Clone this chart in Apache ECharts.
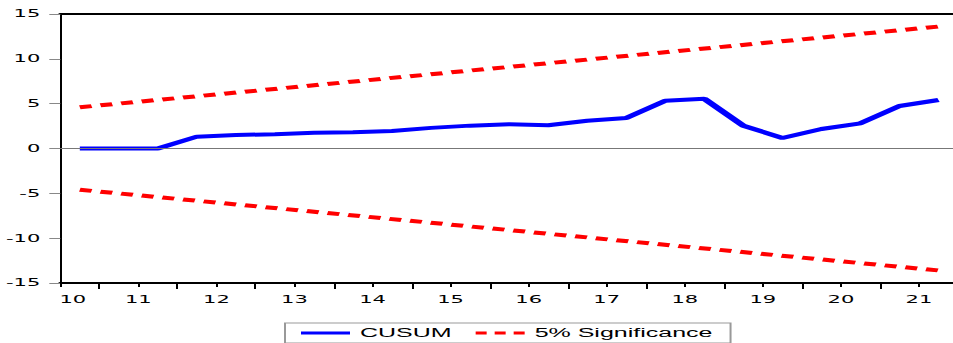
<!DOCTYPE html>
<html><head><meta charset="utf-8">
<style>
html,body{margin:0;padding:0;width:953px;height:343px;overflow:hidden;background:#fff}
#c{width:490px;height:343px;transform:scaleX(2);transform-origin:0 0;}
</style>
<script src="https://cdn.jsdelivr.net/npm/echarts@6/dist/echarts.min.js"></script>
</head><body><div id="c"></div>
<script>
// x positions: half-year observations (year 2-digit + 0.25 / 0.75)
const periods = [10.25,10.75,11.25,11.75,12.25,12.75,13.25,13.75,14.25,14.75,15.25,15.75,16.25,16.75,17.25,17.75,18.25,18.75,19.25,19.75,20.25,20.75,21.25];
const cusum = [0,0,0,1.32,1.5,1.6,1.75,1.8,1.95,2.3,2.55,2.7,2.6,3.1,3.4,5.33,5.55,2.54,1.17,2.17,2.81,4.74,5.41];
const boundX = [10.25, 21.25];
const upperBound = [4.6, 13.6];
const lowerBound = [-4.6, -13.6];
const tickLabels = ['10','11','12','13','14','15','16','17','18','19','20','21'];
const yearTicks = [10,11,12,13,14,15,16,17,18,19,20,21];
const halfTicks = [10.5,11.5,12.5,13.5,14.5,15.5,16.5,17.5,18.5,19.5,20.5,21.5];

const zip = (xs, ys) => xs.map((x, i) => [x, ys[i]]);
const axisFont = {fontFamily: 'DejaVu Sans', fontSize: 10.5, color: '#000'};
const solidIcon = 'path://M0,0h24.5v3.2h-24.5z';
const dashIcon = 'path://M0,0h5.5v3.2h-5.5zM9.5,0h5.5v3.2h-5.5zM19,0h5.5v3.2h-5.5z';

const chart = echarts.init(document.getElementById('c'), null, {renderer: 'svg'});
chart.setOption({
  animation: false,
  backgroundColor: '#fff',
  grid: {left: 29.5, top: 14, bottom: 60, width: 449.5, containLabel: false},
  legend: {
    data: [
      {name: 'CUSUM', icon: solidIcon, itemStyle: {color: '#0000ff', borderWidth: 0}},
      {name: '5% Significance', icon: dashIcon, itemStyle: {color: '#ff0000', borderWidth: 0}}
    ],
    left: 142.5, top: 323, orient: 'horizontal',
    itemWidth: 24.5, itemHeight: 14, itemGap: 12,
    padding: [3.5, 9, 3.5, 8],
    borderColor: '#999', borderWidth: 1, backgroundColor: '#fff',
    textStyle: {fontFamily: 'Liberation Sans', fontSize: 12.5, color: '#000'}
  },
  xAxis: [
    {
      type: 'value', min: 10, max: 21.5, interval: 1, position: 'bottom',
      axisLine: {onZero: false, lineStyle: {color: '#000', width: 2}},
      axisTick: {show: true, length: 4, customValues: yearTicks, lineStyle: {color: '#000', width: 1}},
      splitLine: {show: false},
      axisLabel: Object.assign({}, axisFont, {
        margin: 11.5,
        customValues: yearTicks,
        formatter: function (v) {
          const i = Math.round(v) - 10;
          if (Math.abs(v - Math.round(v)) > 1e-6 || i < 0 || i >= tickLabels.length) return '';
          return i === 0 ? '{first|' + tickLabels[0] + '}' : tickLabels[i];
        },
        rich: {first: Object.assign({}, axisFont, {padding: [0, 0, 0, 12.5]})}
      })
    },
    {
      type: 'value', min: 10, max: 21.5, interval: 1, position: 'bottom',
      axisLine: {show: false, onZero: false},
      axisTick: {show: true, length: 6, customValues: halfTicks, lineStyle: {color: '#000', width: 1}},
      axisLabel: {show: false},
      splitLine: {show: false}
    },
    {
      type: 'value', min: 10, max: 21.5, interval: 1, position: 'top',
      axisLine: {onZero: false, lineStyle: {color: '#000', width: 2}},
      axisTick: {show: false}, axisLabel: {show: false}, splitLine: {show: false}
    }
  ],
  yAxis: {
    type: 'value', min: -15, max: 15, interval: 5,
    axisLine: {show: true, onZero: false, lineStyle: {color: '#000', width: 1}},
    axisTick: {show: true, length: 5.5, lineStyle: {color: '#888', width: 1}},
    axisLabel: Object.assign({}, axisFont, {margin: 10}),
    splitLine: {show: false}
  },
  series: [
    {
      name: '5% Significance', type: 'line', xAxisIndex: 0,
      data: zip(boundX, upperBound), symbol: 'none',
      lineStyle: {color: '#ff0000', width: 4, type: [6, 4.5]},
      itemStyle: {color: '#ff0000'},
      markLine: {
        silent: true, symbol: 'none', label: {show: false},
        lineStyle: {color: '#777', width: 1, type: 'solid'},
        data: [{yAxis: 0}]
      },
      z: 2
    },
    {
      name: '5% Significance', type: 'line', xAxisIndex: 0,
      data: zip(boundX, lowerBound), symbol: 'none',
      lineStyle: {color: '#ff0000', width: 4, type: [6, 4.5]},
      itemStyle: {color: '#ff0000'},
      z: 2
    },
    {
      name: 'CUSUM', type: 'line', xAxisIndex: 0,
      data: zip(periods, cusum), symbol: 'none',
      lineStyle: {color: '#0000ff', width: 4},
      itemStyle: {color: '#0000ff'},
      z: 3
    }
  ]
});
</script>
</body></html>
